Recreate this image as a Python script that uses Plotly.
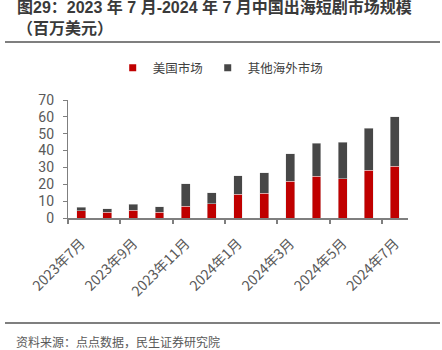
import plotly.graph_objects as go

months = ["2023年7月", "2023年8月", "2023年9月", "2023年10月", "2023年11月", "2023年12月",
          "2024年1月", "2024年2月", "2024年3月", "2024年4月", "2024年5月", "2024年6月", "2024年7月"]
us_market = [4.3, 3.5, 4.5, 3.5, 6.9, 8.5, 14.2, 14.8, 21.7, 24.8, 23.3, 28.2, 30.8]
other_market = [2.0, 2.0, 3.6, 3.2, 13.4, 6.5, 10.8, 12.0, 16.3, 19.6, 21.7, 25.0, 29.2]
series_names = ["美国市场", "其他海外市场"]
colors = ["#C00000", "#474747"]

title_text = "<b>图29：2023 年 7 月-2024 年 7 月中国出海短剧市场规模</b><br><b>（百万美元）</b>"
source_text = "资料来源：点点数据，民生证券研究院"

FONT = "Noto Sans CJK SC"
W, H = 442, 350
L, R, T, B = 68, 34, 100, 132
PW, PH = W - L - R, H - T - B
x_idx = list(range(len(months)))

def px_x(p):
    return (p - L) / PW

def px_y(p):
    return (H - B - p) / PH

fig = go.Figure()
for name, vals, col in zip(series_names, [us_market, other_market], colors):
    fig.add_trace(go.Bar(x=x_idx, y=vals, name=name, marker_color=col,
                         marker_line=dict(color="rgba(225,225,225,0.8)", width=0.6),
                         width=0.34, showlegend=False))
    fig.add_trace(go.Scatter(x=[None], y=[None], mode="markers", name=name,
                             marker=dict(symbol="square", size=7, color=col)))

# tick marks at the boundaries between pairs of months
tick_marks = [i - 0.5 for i in x_idx[::2] if i - 0.5 < len(months) - 1]
fig.add_trace(go.Scatter(x=[None], y=[None], xaxis="x2", showlegend=False))

fig.update_layout(
    width=W, height=H,
    margin=dict(l=L, r=R, t=T, b=B, autoexpand=False),
    paper_bgcolor="white", plot_bgcolor="white",
    barmode="stack",
    font=dict(family=FONT, color="#595959"),
    title=dict(text=title_text, xref="container", yref="container",
               x=17 / W, y=1 - 13 / H, xanchor="left", yanchor="top",
               pad=dict(t=0, l=0, b=0, r=0),
               font=dict(size=16, color="#3a3a3a",
                         family="Liberation Sans, Noto Sans CJK SC")),
    legend=dict(orientation="h", xref="container", yref="container",
                x=0.255, y=1 - 68 / H, xanchor="left", yanchor="middle",
                font=dict(size=12.5, color="#404040"), itemwidth=30,
                traceorder="normal"),
    xaxis=dict(range=[-0.5, len(months) - 0.5], tickmode="array",
               tickvals=x_idx[::2], ticktext=months[::2], tickangle=-45,
               ticks="", showline=True, linecolor="#7f7f7f", linewidth=1.5,
               ticklabelstandoff=10,
               tickfont=dict(size=14, color="#595959"), showgrid=False, zeroline=False),
    xaxis2=dict(range=[-0.5, len(months) - 0.5], overlaying="x", tickmode="array",
                tickvals=tick_marks, showticklabels=False, ticks="outside",
                ticklen=5, tickcolor="#7f7f7f", tickwidth=1.5, showgrid=False,
                zeroline=False, side="bottom"),
    yaxis=dict(range=[0, 70], dtick=10, showgrid=False, zeroline=False,
               showline=True, linecolor="#7f7f7f", linewidth=1.2,
               ticks="outside", ticklen=4, tickcolor="#7f7f7f",
               ticklabelstandoff=6,
               tickfont=dict(size=14, color="#595959", family="Roboto")),
)

fig.add_annotation(text=source_text, xref="paper", yref="paper",
                   x=px_x(14), y=px_y(341), xanchor="left", yanchor="middle",
                   showarrow=False, font=dict(size=12, color="#595959", family=FONT))
for yy in (42, 323):
    fig.add_shape(type="line", xref="paper", yref="paper", x0=px_x(5), x1=px_x(440),
                  y0=px_y(yy), y1=px_y(yy), line=dict(color="#7f7f7f", width=2))

fig.write_html("out.html")
